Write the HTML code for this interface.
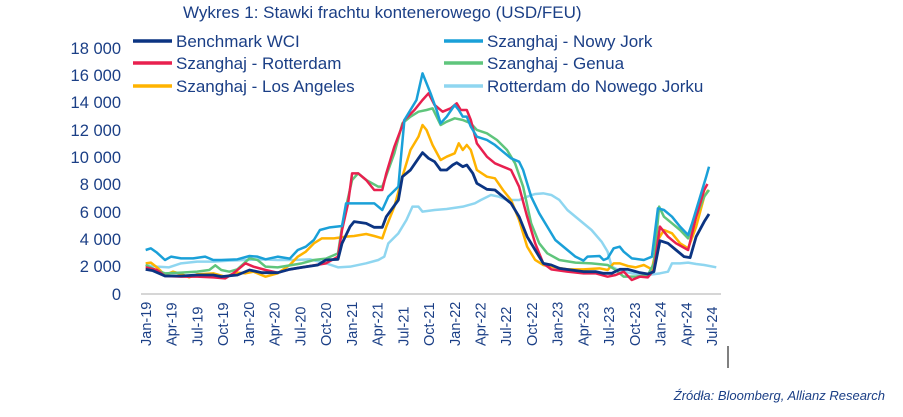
<!DOCTYPE html>
<html><head><meta charset="utf-8"><style>
body{margin:0;background:#fff;}
svg{display:block;font-family:"Liberation Sans",sans-serif;}
.t{font-family:"Liberation Sans",sans-serif;fill:#1b3f86;}
</style></head><body>
<svg width="903" height="417" viewBox="0 0 903 417" xmlns="http://www.w3.org/2000/svg">
<text x="183" y="18" class="t" font-size="17">Wykres 1: Stawki frachtu kontenerowego (USD/FEU)</text>
<g class="t" font-size="16.5" text-anchor="end">
<text x="121" y="54">18 000</text><text x="121" y="81">16 000</text><text x="121" y="108">14 000</text>
<text x="121" y="136">12 000</text><text x="121" y="163">10 000</text><text x="121" y="190">8 000</text>
<text x="121" y="218">6 000</text><text x="121" y="245">4 000</text><text x="121" y="272">2 000</text>
<text x="121" y="300">0</text>
</g>
<line x1="141" y1="294" x2="721" y2="294" stroke="#c8c8c8" stroke-width="1.5"/>
<g class="t" font-size="14.5">
<text transform="translate(151,346) rotate(-90)">Jan-19</text>
<text transform="translate(176.7,346) rotate(-90)">Apr-19</text>
<text transform="translate(202.5,346) rotate(-90)">Jul-19</text>
<text transform="translate(228.2,346) rotate(-90)">Oct-19</text>
<text transform="translate(253.9,346) rotate(-90)">Jan-20</text>
<text transform="translate(279.6,346) rotate(-90)">Apr-20</text>
<text transform="translate(305.4,346) rotate(-90)">Jul-20</text>
<text transform="translate(331.1,346) rotate(-90)">Oct-20</text>
<text transform="translate(356.8,346) rotate(-90)">Jan-21</text>
<text transform="translate(382.6,346) rotate(-90)">Apr-21</text>
<text transform="translate(408.3,346) rotate(-90)">Jul-21</text>
<text transform="translate(434,346) rotate(-90)">Oct-21</text>
<text transform="translate(459.8,346) rotate(-90)">Jan-22</text>
<text transform="translate(485.5,346) rotate(-90)">Apr-22</text>
<text transform="translate(511.2,346) rotate(-90)">Jul-22</text>
<text transform="translate(537,346) rotate(-90)">Oct-22</text>
<text transform="translate(562.7,346) rotate(-90)">Jan-23</text>
<text transform="translate(588.4,346) rotate(-90)">Apr-23</text>
<text transform="translate(614.1,346) rotate(-90)">Jul-23</text>
<text transform="translate(639.9,346) rotate(-90)">Oct-23</text>
<text transform="translate(665.6,346) rotate(-90)">Jan-24</text>
<text transform="translate(691.3,346) rotate(-90)">Apr-24</text>
<text transform="translate(717,346) rotate(-90)">Jul-24</text>
</g>
<line x1="728" y1="346" x2="728" y2="368" stroke="#000" stroke-width="1"/>
<g transform="translate(100.6,30) scale(0.4024,0.33333)" fill="none" stroke-linejoin="round">
<polyline vector-effect="non-scaling-stroke" stroke="#8fd6f0" stroke-width="2.5" points="112,705 140,710 170,712 200,700 240,695 280,695 320,692 360,690 400,688 440,690 480,690 520,688 560,700 590,712 620,710 660,700 690,690 705,680 715,640 740,610 760,570 775,530 790,530 800,545 830,540 860,537 900,530 930,520 945,510 970,495 990,500 1010,510 1040,510 1060,500 1080,492 1100,490 1120,495 1140,510 1160,540 1190,570 1220,600 1245,635 1260,665 1270,710 1290,722 1320,730 1360,735 1390,730 1410,725 1420,700 1440,700 1460,698 1480,702 1500,705 1530,712"/>
<polyline vector-effect="non-scaling-stroke" stroke="#ffb300" stroke-width="2.5" points="112,700 125,698 140,712 160,735 180,725 200,732 220,742 240,733 280,730 310,740 340,728 360,730 380,725 410,740 440,730 470,705 490,680 510,665 530,640 550,625 580,625 610,620 630,618 660,612 680,618 700,625 710,590 730,530 750,440 770,360 790,320 800,285 810,300 825,345 845,390 860,380 880,370 890,340 900,360 910,345 920,360 935,420 960,440 980,445 1000,480 1020,510 1040,570 1060,650 1080,690 1100,705 1130,712 1160,718 1200,718 1240,715 1260,720 1275,700 1290,700 1310,708 1330,712 1350,705 1370,718 1385,630 1400,600 1420,610 1440,640 1460,655 1480,590 1500,500 1510,480"/>
<polyline vector-effect="non-scaling-stroke" stroke="#5fc57c" stroke-width="2.5" points="112,705 140,722 160,730 200,728 240,725 270,720 285,706 300,720 320,725 340,718 370,685 390,690 410,710 440,712 470,706 500,700 530,690 560,686 590,670 600,590 610,530 625,450 640,430 660,450 690,470 700,470 715,420 730,370 750,280 770,260 790,245 810,240 825,235 845,285 860,275 880,265 900,270 920,280 935,300 960,310 985,330 1010,360 1030,400 1050,470 1070,580 1090,640 1110,670 1140,690 1180,698 1220,700 1260,705 1280,720 1300,740 1330,740 1360,735 1375,700 1388,530 1400,560 1420,580 1440,600 1460,625 1480,560 1500,500 1512,480"/>
<polyline vector-effect="non-scaling-stroke" stroke="#e8204f" stroke-width="2.5" points="112,712 140,720 160,738 200,740 240,740 280,742 310,745 330,730 360,700 380,710 410,720 440,728 470,718 500,712 530,706 560,700 590,680 600,600 615,520 625,430 640,430 660,450 680,480 700,480 710,430 730,350 755,270 780,240 800,210 815,190 830,225 850,245 870,235 885,220 895,240 910,240 920,270 935,340 960,380 980,400 1000,410 1020,420 1040,470 1060,560 1080,640 1100,700 1120,718 1160,725 1200,730 1230,730 1260,740 1280,735 1300,725 1320,750 1340,740 1360,742 1375,720 1390,590 1410,620 1430,640 1460,660 1480,560 1500,480 1508,462"/>
<polyline vector-effect="non-scaling-stroke" stroke="#1aa0d8" stroke-width="2.5" points="112,660 125,655 140,668 160,690 175,680 200,685 230,685 260,680 280,690 300,690 340,688 370,678 390,680 410,688 440,680 470,686 490,660 510,650 530,630 545,600 570,592 600,588 610,520 630,520 660,520 680,520 700,540 715,500 740,470 745,400 755,270 770,240 785,210 800,130 810,160 820,190 835,240 845,280 860,260 880,225 890,240 900,260 910,260 920,290 935,320 960,330 980,345 1000,365 1020,385 1040,395 1050,420 1070,500 1090,550 1110,590 1130,630 1160,660 1180,680 1200,692 1210,680 1240,678 1250,690 1260,685 1275,655 1290,650 1300,665 1320,685 1350,690 1370,680 1385,535 1400,540 1420,560 1440,590 1460,615 1470,580 1490,500 1505,440 1512,410"/>
<polyline vector-effect="non-scaling-stroke" stroke="#0b3482" stroke-width="2.8" points="112,718 130,722 160,738 200,738 240,735 280,735 300,740 340,735 370,720 400,728 440,728 470,718 500,712 540,705 560,690 590,688 600,640 620,590 630,575 660,580 680,592 700,592 710,560 740,510 750,440 770,420 790,385 800,368 815,385 830,395 845,420 860,420 875,405 885,398 900,410 910,405 925,430 935,460 960,478 980,480 1000,500 1020,520 1040,560 1060,620 1080,660 1100,700 1120,705 1140,715 1170,720 1200,725 1230,725 1250,730 1270,730 1290,718 1310,718 1340,728 1360,732 1375,725 1390,632 1410,640 1430,660 1450,680 1465,683 1480,620 1500,575 1512,552"/>
</g>
<g stroke-width="3.5">
<line x1="133" y1="41" x2="172" y2="41" stroke="#0b3482"/>
<line x1="133" y1="63" x2="172" y2="63" stroke="#e8204f"/>
<line x1="133" y1="86" x2="172" y2="86" stroke="#ffb300"/>
<line x1="444" y1="41" x2="483" y2="41" stroke="#1aa0d8"/>
<line x1="444" y1="63" x2="483" y2="63" stroke="#5fc57c"/>
<line x1="444" y1="86" x2="483" y2="86" stroke="#8fd6f0"/>
</g>
<g class="t" font-size="17">
<text x="176" y="47">Benchmark WCI</text>
<text x="176" y="69">Szanghaj - Rotterdam</text>
<text x="176" y="92">Szanghaj - Los Angeles</text>
<text x="487" y="47">Szanghaj - Nowy Jork</text>
<text x="487" y="69">Szanghaj - Genua</text>
<text x="487" y="92">Rotterdam do Nowego Jorku</text>
</g>
<text x="885" y="400" class="t" font-size="13" font-style="italic" text-anchor="end">Źródła: Bloomberg, Allianz Research</text>
</svg>
</body></html>
